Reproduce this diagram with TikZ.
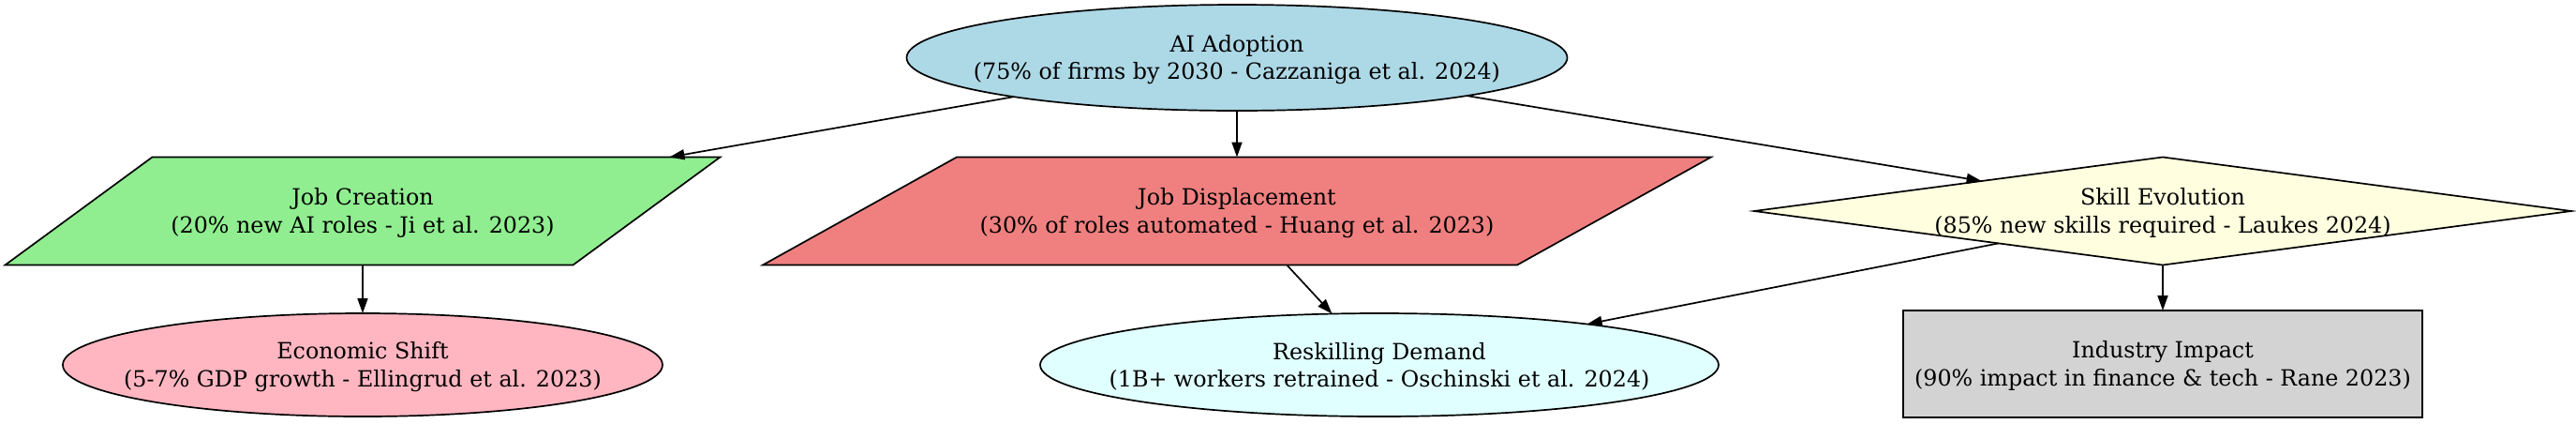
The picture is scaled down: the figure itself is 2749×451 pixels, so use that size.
\documentclass[tikz,border=0pt]{standalone}
\usepackage{fontspec}
\setmainfont{DejaVu Serif}
\usetikzlibrary{shapes.geometric,arrows.meta,backgrounds}
\definecolor{cAI}{HTML}{ADD8E6}
\definecolor{cJC}{HTML}{90EE90}
\definecolor{cJD}{HTML}{F08080}
\definecolor{cSE}{HTML}{FFFFE0}
\definecolor{cES}{HTML}{FFB6C1}
\definecolor{cRD}{HTML}{E0FFFF}
\definecolor{cII}{HTML}{D3D3D3}
\begin{document}
\begin{tikzpicture}[x=1pt,y=-1pt,
  base/.style={draw=black, line width=1.7pt, inner sep=0pt, outer sep=0pt},
  oval/.style={base, ellipse},
  txt/.style={align=center, font=\fontsize{23.8pt}{29.5pt}\selectfont, inner sep=0pt, yshift=-2pt},
  parabox/.style={rectangle, inner sep=0pt, outer sep=0pt},
  conn/.style={line width=1.7pt, -{Triangle[length=16pt,width=11pt]}}
]
\useasboundingbox (0,0) rectangle (2749,451);
% shapes
\node[oval, fill=cAI, minimum width=705pt, minimum height=113pt] (ai) at (1320,61.5) {};
\node[parabox, minimum width=763pt, minimum height=115pt] (jc) at (387,225) {};
\node[parabox, minimum width=1012pt, minimum height=115pt] (jd) at (1320,225) {};
\node[base, diamond, fill=cSE, minimum width=872pt, minimum height=115pt] (se) at (2308,225) {};
\node[oval, fill=cES, minimum width=640pt, minimum height=110pt] (es) at (387,389) {};
\node[oval, fill=cRD, minimum width=724pt, minimum height=110pt] (rd) at (1472,389) {};
\node[base, rectangle, fill=cII, minimum width=554pt, minimum height=114pt] (ii) at (2308,388) {};
\begin{scope}[on background layer]
  \draw[base, fill=cJC] ([xshift=157pt]jc.north west) -- (jc.north east)
    -- ([xshift=-157pt]jc.south east) -- (jc.south west) -- cycle;
  \draw[base, fill=cJD] ([xshift=207pt]jd.north west) -- (jd.north east)
    -- ([xshift=-207pt]jd.south east) -- (jd.south west) -- cycle;
\end{scope}
% texts
\node[txt] (aiT) at (ai) {AI Adoption\\(75\% of firms by 2030 - Cazzaniga et al. 2024)};
\node[txt] (jcT) at (jc) {Job Creation\\(20\% new AI roles - Ji et al. 2023)};
\node[txt] (jdT) at (jd) {Job Displacement\\(30\% of roles automated - Huang et al. 2023)};
\node[txt] (seT) at (se) {Skill Evolution\\(85\% new skills required - Laukes 2024)};
\node[txt] (esT) at (es) {Economic Shift\\(5-7\% GDP growth - Ellingrud et al. 2023)};
\node[txt] (rdT) at (rd) {Reskilling Demand\\(1B+ workers retrained - Oschinski et al. 2024)};
\node[txt] (iiT) at (ii) {Industry Impact\\(90\% impact in finance \& tech - Rane 2023)};
% connectors
\draw[conn] (ai) -- (jc);
\draw[conn] (ai) -- (jd);
\draw[conn] (ai) -- (se);
\draw[conn] (jc) -- (es);
\draw[conn] (jd) -- (rd);
\draw[conn] (se) -- (rd);
\draw[conn] (se) -- (ii);
\end{tikzpicture}
\end{document}
